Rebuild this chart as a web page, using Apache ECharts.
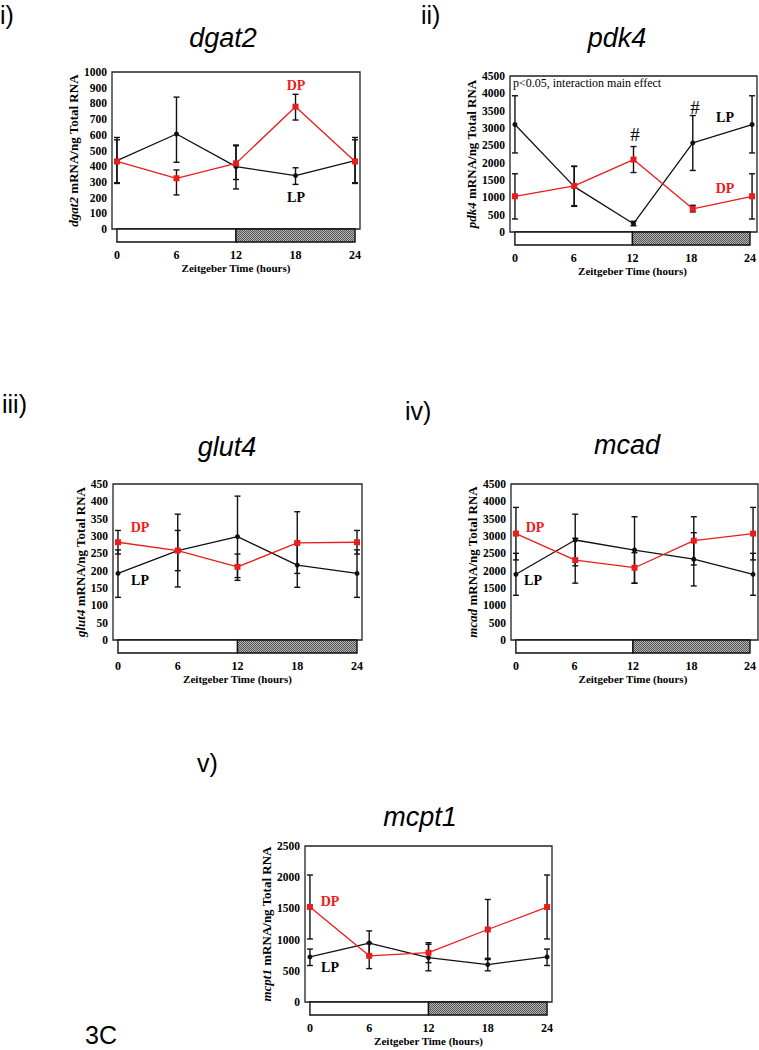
<!DOCTYPE html>
<html><head><meta charset="utf-8">
<script src="https://cdn.jsdelivr.net/npm/echarts@6/dist/echarts.min.js"></script>
<style>html,body{margin:0;padding:0;background:#fff}#chart{width:759px;height:1050px}</style>
</head><body><div id="chart"></div>
<script>
// ---------- data ----------
const hours = [0, 6, 12, 18, 24];
const tickHours = [0, 6, 12, 18, 24];
const ldStart = [0, 12];
const ldEnd = [12, 24];
const ldPhase = ['light', 'dark'];

// dgat2
const dgat2LP = [435, 605, 397, 340, 435];
const dgat2LPLow = [290, 425, 255, 284, 290];
const dgat2LPHigh = [583, 840, 535, 390, 583];
const dgat2DP = [430, 323, 418, 779, 430];
const dgat2DPLow = [295, 217, 315, 694, 295];
const dgat2DPHigh = [568, 376, 530, 858, 568];

// pdk4
const pdk4LP = [3100, 1310, 240, 2570, 3100];
const pdk4LPLow = [2280, 740, 180, 1775, 2280];
const pdk4LPHigh = [3930, 1890, 310, 3360, 3930];
const pdk4DP = [1030, 1330, 2090, 670, 1030];
const pdk4DPLow = [375, 760, 1715, 580, 375];
const pdk4DPHigh = [1680, 1900, 2465, 770, 1680];

// glut4
const glut4LP = [192, 258, 298, 216, 192];
const glut4LPLow = [123, 153, 180, 152, 123];
const glut4LPHigh = [260, 363, 415, 280, 260];
const glut4DP = [282, 258, 211, 280, 282];
const glut4DPLow = [248, 200, 172, 192, 248];
const glut4DPHigh = [316, 316, 248, 370, 316];

// mcad
const mcadLP = [1895, 2885, 2595, 2330, 1895];
const mcadLPLow = [1290, 2140, 1635, 1560, 1290];
const mcadLPHigh = [2500, 3630, 3555, 3095, 2500];
const mcadDP = [3070, 2305, 2085, 2865, 3070];
const mcadDPLow = [2310, 1640, 1640, 2165, 2310];
const mcadDPHigh = [3825, 2935, 2520, 3555, 3825];

// mcpt1
const mcpt1LP = [722, 945, 712, 600, 722];
const mcpt1LPLow = [585, 745, 500, 500, 585];
const mcpt1LPHigh = [848, 1140, 925, 700, 848];
const mcpt1DP = [1522, 740, 790, 1162, 1522];
const mcpt1DPLow = [1010, 535, 630, 680, 1010];
const mcpt1DPHigh = [2035, 945, 950, 1643, 2035];

// axis ranges (tick labels)
const dgat2Ticks = {max: 1000, step: 100};
const pdk4Ticks = {max: 4500, step: 500};
const glut4Ticks = {max: 450, step: 50};
const mcadTicks = {max: 4500, step: 500};
const mcpt1Ticks = {max: 2500, step: 500};

// ---------- layout / style ----------
const RED = '#ea1c1c';
const SERIF = '"Liberation Serif", "Times New Roman", serif';
const SANS = '"Liberation Sans", Arial, sans-serif';

const panels = [
  {gene: 'dgat2', tag: 'i)', ticks: dgat2Ticks,
   lp: dgat2LP, lpLow: dgat2LPLow, lpHigh: dgat2LPHigh,
   dp: dgat2DP, dpLow: dgat2DPLow, dpHigh: dgat2DPHigh,
   box: {left: 112, top: 72, width: 248, height: 157}, nameGap: 32,
   title: [223, 38], tagPos: [0, 15],
   dpText: [296, 85], lpText: [296, 197]},
  {gene: 'pdk4', tag: 'ii)', ticks: pdk4Ticks,
   lp: pdk4LP, lpLow: pdk4LPLow, lpHigh: pdk4LPHigh,
   dp: pdk4DP, dpLow: pdk4DPLow, dpHigh: pdk4DPHigh,
   box: {left: 510, top: 76, width: 247, height: 156}, nameGap: 30,
   title: [617, 38], tagPos: [421, 15],
   dpText: [725, 188], lpText: [725, 117]},
  {gene: 'glut4', tag: 'iii)', ticks: glut4Ticks,
   lp: glut4LP, lpLow: glut4LPLow, lpHigh: glut4LPHigh,
   dp: glut4DP, dpLow: glut4DPLow, dpHigh: glut4DPHigh,
   box: {left: 113, top: 484, width: 249, height: 156}, nameGap: 25,
   title: [227, 447], tagPos: [2, 404],
   dpText: [140, 527], lpText: [140, 580]},
  {gene: 'mcad', tag: 'iv)', ticks: mcadTicks,
   lp: mcadLP, lpLow: mcadLPLow, lpHigh: mcadLPHigh,
   dp: mcadDP, dpLow: mcadDPLow, dpHigh: mcadDPHigh,
   box: {left: 511, top: 484, width: 247, height: 156}, nameGap: 30,
   title: [627, 445], tagPos: [405, 411],
   dpText: [535, 527], lpText: [533, 580]},
  {gene: 'mcpt1', tag: 'v)', ticks: mcpt1Ticks,
   lp: mcpt1LP, lpLow: mcpt1LPLow, lpHigh: mcpt1LPHigh,
   dp: mcpt1DP, dpLow: mcpt1DPLow, dpHigh: mcpt1DPHigh,
   box: {left: 305, top: 846, width: 247, height: 156}, nameGap: 31,
   title: [420, 817], tagPos: [197, 763],
   dpText: [330, 901], lpText: [330, 967]}
];
const STRIP_H = 13;

// hatch pattern for the dark phase
const pat = document.createElement('canvas');
pat.width = 4; pat.height = 4;
(function () {
  const c = pat.getContext('2d');
  c.fillStyle = '#b4b4b4'; c.fillRect(0, 0, 4, 4);
  c.fillStyle = '#555555';
  c.fillRect(0, 0, 1, 1); c.fillRect(2, 0, 1, 1);
  c.fillRect(1, 1, 1, 1); c.fillRect(3, 1, 1, 1);
  c.fillRect(0, 2, 1, 1); c.fillRect(2, 2, 1, 1);
  c.fillRect(1, 3, 1, 1); c.fillRect(3, 3, 1, 1);
})();

const grids = [], xAxes = [], yAxes = [], series = [], graphics = [];

function errRender(params, api) {
  const x = api.value(0);
  const lo = api.coord([x, api.value(1)]);
  const hi = api.coord([x, api.value(2)]);
  const w = 3;
  const st = {stroke: '#111', lineWidth: 1.4, fill: null};
  return {type: 'group', children: [
    {type: 'line', shape: {x1: lo[0], y1: lo[1], x2: hi[0], y2: hi[1]}, style: st},
    {type: 'line', shape: {x1: lo[0] - w, y1: lo[1], x2: lo[0] + w, y2: lo[1]}, style: st},
    {type: 'line', shape: {x1: hi[0] - w, y1: hi[1], x2: hi[0] + w, y2: hi[1]}, style: st}
  ]};
}

function ldRender(params, api) {
  const a = api.coord([api.value(0), 1]);
  const b = api.coord([api.value(1), 0]);
  const dark = api.value(2) === 'dark';
  return {type: 'rect', shape: {x: a[0], y: a[1], width: b[0] - a[0], height: b[1] - a[1]},
    style: {fill: dark ? {image: pat, repeat: 'repeat'} : '#fff', stroke: '#111', lineWidth: 1.4}};
}

const plain = v => String(v);

panels.forEach((p, k) => {
  const gi = 2 * k, si = 2 * k + 1;
  grids.push({left: p.box.left, top: p.box.top, width: p.box.width, height: p.box.height,
    show: true, borderColor: '#222', borderWidth: 1.3, backgroundColor: 'transparent'});
  grids.push({left: p.box.left, top: p.box.top + p.box.height, width: p.box.width, height: STRIP_H,
    show: false});
  xAxes.push({gridIndex: gi, type: 'value', min: -0.5, max: 24.5, show: false});
  xAxes.push({gridIndex: si, type: 'value', min: -0.5, max: 24.5,
    axisLine: {show: false}, axisTick: {show: false}, splitLine: {show: false},
    axisLabel: {customValues: tickHours, margin: 7, color: '#000', fontFamily: SERIF,
      fontWeight: 'bold', fontSize: 12, formatter: plain},
    name: 'Zeitgeber Time (hours)', nameLocation: 'middle', nameGap: 20,
    nameTextStyle: {color: '#000', fontFamily: SERIF, fontWeight: 'bold', fontSize: 11}});
  yAxes.push({gridIndex: gi, type: 'value', min: 0, max: p.ticks.max, interval: p.ticks.step,
    axisLine: {show: false}, axisTick: {show: false}, splitLine: {show: false},
    axisLabel: {margin: 5, color: '#000', fontFamily: SERIF, fontWeight: 'bold', fontSize: 11.5, formatter: plain},
    name: '{i|' + p.gene + '} mRNA/ng Total RNA', nameLocation: 'middle', nameGap: p.nameGap,
    nameTextStyle: {color: '#000', fontFamily: SERIF, fontWeight: 'bold', fontSize: 13,
      rich: {i: {fontStyle: 'italic', fontWeight: 'bold', fontFamily: SERIF, fontSize: 13, color: '#000'}}}});
  yAxes.push({gridIndex: si, type: 'value', min: 0, max: 1, show: false});

  series.push({type: 'custom', xAxisIndex: si, yAxisIndex: si, renderItem: ldRender, silent: true,
    data: ldStart.map((s, i) => [s, ldEnd[i], ldPhase[i]])});
  series.push({type: 'custom', xAxisIndex: gi, yAxisIndex: gi, renderItem: errRender, silent: true, z: 3,
    data: hours.map((h, i) => [h, p.lpLow[i], p.lpHigh[i]])});
  series.push({type: 'custom', xAxisIndex: gi, yAxisIndex: gi, renderItem: errRender, silent: true, z: 3,
    data: hours.map((h, i) => [h, p.dpLow[i], p.dpHigh[i]])});
  series.push({name: 'LP', type: 'line', xAxisIndex: gi, yAxisIndex: gi, z: 4,
    data: hours.map((h, i) => [h, p.lp[i]]),
    symbol: 'circle', symbolSize: 5, showAllSymbol: true,
    lineStyle: {color: '#111', width: 1.3}, itemStyle: {color: '#111'}});
  series.push({name: 'DP', type: 'line', xAxisIndex: gi, yAxisIndex: gi, z: 5,
    data: hours.map((h, i) => [h, p.dp[i]]),
    symbol: 'rect', symbolSize: 6, showAllSymbol: true,
    lineStyle: {color: RED, width: 1.3}, itemStyle: {color: RED}});

  graphics.push({type: 'text', x: p.title[0], y: p.title[1],
    style: {text: p.gene, font: 'italic 27px ' + SANS, fill: '#000', align: 'center', verticalAlign: 'middle'}});
  graphics.push({type: 'text', x: p.tagPos[0], y: p.tagPos[1],
    style: {text: p.tag, font: '25px ' + SANS, fill: '#000', align: 'left', verticalAlign: 'middle'}});
  graphics.push({type: 'text', x: p.dpText[0], y: p.dpText[1],
    style: {text: 'DP', font: 'bold 14px ' + SERIF, fill: RED, align: 'center', verticalAlign: 'middle'}});
  graphics.push({type: 'text', x: p.lpText[0], y: p.lpText[1],
    style: {text: 'LP', font: 'bold 14px ' + SERIF, fill: '#000', align: 'center', verticalAlign: 'middle'}});
});

graphics.push({type: 'text', x: 513, y: 83,
  style: {text: 'p<0.05, interaction main effect', font: '12px ' + SERIF, fill: '#000', align: 'left', verticalAlign: 'middle'}});
graphics.push({type: 'text', x: 635, y: 134,
  style: {text: '#', font: '19px ' + SERIF, fill: '#000', align: 'center', verticalAlign: 'middle'}});
graphics.push({type: 'text', x: 695, y: 107,
  style: {text: '#', font: '19px ' + SERIF, fill: '#000', align: 'center', verticalAlign: 'middle'}});
graphics.push({type: 'text', x: 85, y: 1035,
  style: {text: '3C', font: '25px ' + SANS, fill: '#000', align: 'left', verticalAlign: 'middle'}});

const chart = echarts.init(document.getElementById('chart'), null, {renderer: 'svg'});
chart.setOption({
  animation: false,
  backgroundColor: '#fff',
  grid: grids, xAxis: xAxes, yAxis: yAxes, series: series, graphic: graphics
});
</script></body></html>
